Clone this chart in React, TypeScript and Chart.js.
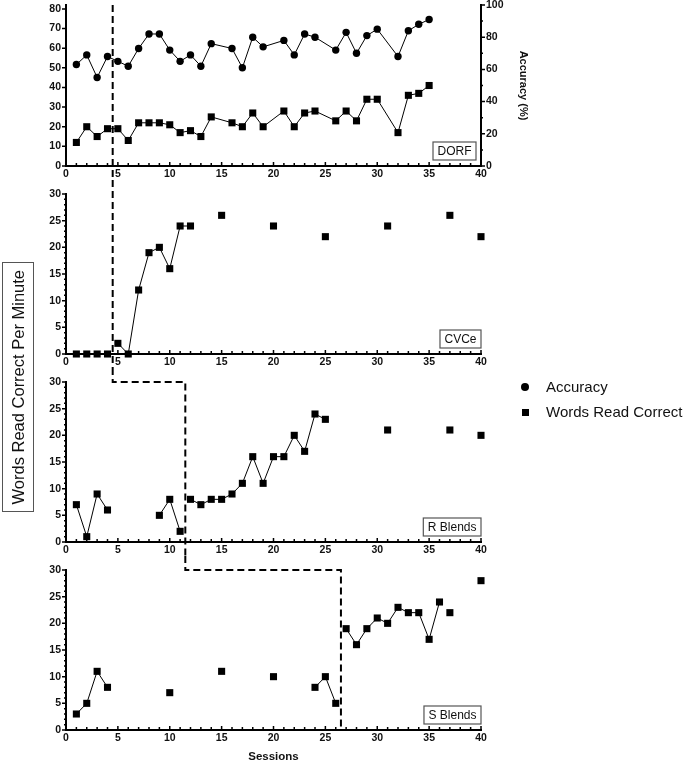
import { useEffect, useRef } from "react";
import { Chart, registerables } from "chart.js";

Chart.register(...registerables);

const FONT = '"Liberation Sans", Arial, Helvetica, sans-serif';
Chart.defaults.font.family = FONT;

// ---- tick labels
const sessionTicks = [0, 5, 10, 15, 20, 25, 30, 35, 40];
const dorfWordTicks = [0, 10, 20, 30, 40, 50, 60, 70, 80];
const accuracyTicks = [0, 20, 40, 60, 80, 100];
const wordTicks = [0, 5, 10, 15, 20, 25, 30];

// ---- DORF panel (words on left axis, accuracy % on right axis)
const dorfSessions = [1, 2, 3, 4, 5, 6, 7, 8, 9, 10, 11, 12, 13, 14, 16, 17, 18, 19, 21, 22, 23, 24, 26, 27, 28, 29, 30, 32, 33, 34, 35];
const dorfWords = [12, 20, 15, 19, 19, 13, 22, 22, 22, 21, 17, 18, 15, 25, 22, 20, 27, 20, 28, 20, 27, 28, 23, 28, 23, 34, 34, 17, 36, 37, 41];
const dorfAccuracy = [63, 69, 55, 68, 65, 62, 73, 82, 82, 72, 65, 69, 62, 76, 73, 61, 80, 74, 78, 69, 82, 80, 72, 83, 70, 81, 85, 68, 84, 88, 91];

// ---- CVCe panel
const cvceBaseSessions = [1, 2, 3, 4];
const cvceBase = [0, 0, 0, 0];
const cvceTreatSessions = [5, 6, 7, 8, 9, 10, 11, 12];
const cvceTreat = [2, 0, 12, 19, 20, 16, 24, 24];
const cvceProbeSessions = [15, 20, 25, 31, 37, 40];
const cvceProbe = [26, 24, 22, 24, 26, 22];

// ---- R Blends panel
const rBaseSessionsA = [1, 2, 3, 4];
const rBaseA = [7, 1, 9, 6];
const rBaseSessionsB = [9, 10, 11];
const rBaseB = [5, 8, 2];
const rTreatSessions = [12, 13, 14, 15, 16, 17, 18, 19, 20, 21, 22, 23, 24, 25];
const rTreat = [8, 7, 8, 8, 9, 11, 16, 11, 16, 16, 20, 17, 24, 23];
const rProbeSessions = [31, 37, 40];
const rProbe = [21, 21, 20];

// ---- S Blends panel
const sBaseSessionsA = [1, 2, 3, 4];
const sBaseA = [3, 5, 11, 8];
const sProbeSessionsA = [10, 15, 20];
const sProbeA = [7, 11, 10];
const sBaseSessionsB = [24, 25, 26];
const sBaseB = [8, 10, 5];
const sTreatSessions = [27, 28, 29, 30, 31, 32, 33, 34, 35, 36];
const sTreat = [19, 16, 19, 21, 20, 23, 22, 22, 17, 24];
const sProbeSessionsB = [37, 40];
const sProbeB = [22, 28];

// phase change lines (between sessions)
const dorfPhase = 4.5;
const rPhase = 11.5;
const sPhase = 26.5;

const series = (sessions: number[], values: number[], line: boolean, style = "rect", axis = "y") => ({
  data: sessions.map((s, i) => ({ x: s, y: values[i] })),
  showLine: line,
  borderColor: "#000",
  borderWidth: 1,
  tension: 0,
  pointStyle: style,
  pointRadius: style === "circle" ? 3.7 : 5,
  pointBackgroundColor: "#000",
  pointBorderColor: "#000",
  pointBorderWidth: 0,
  clip: false as const,
  yAxisID: axis,
});

// ticks, phase lines and the little name box
const panelDecor = {
  id: "panelDecor",
  afterDraw(chart: any, _args: any, o: any) {
    const { ctx, chartArea: a, scales } = chart;
    const xs = scales.x;
    ctx.save();
    ctx.strokeStyle = "#000";
    ctx.lineWidth = 1.5;
    ctx.beginPath();
    for (let v = 0; v <= 40; v++) {
      const px = xs.getPixelForValue(v);
      ctx.moveTo(px, a.bottom);
      ctx.lineTo(px, a.bottom - (v % 5 === 0 ? 4 : 3));
    }
    const ys = scales.y;
    for (let v = 0; v <= ys.max + 0.001; v += o.yMinor) {
      const py = ys.getPixelForValue(v);
      const major = Math.abs(v % o.yMajor) < 0.001;
      ctx.moveTo(a.left, py);
      ctx.lineTo(a.left - (major ? 4 : 2), py);
    }
    if (scales.y1) {
      const y1 = scales.y1;
      for (let v = 0; v <= y1.max; v += 10) {
        const py = y1.getPixelForValue(v);
        ctx.moveTo(a.right, py);
        ctx.lineTo(a.right + (v % 20 === 0 ? 4 : 2), py);
      }
    }
    ctx.stroke();

    // phase change line
    ctx.setLineDash([7, 4]);
    ctx.lineWidth = 2;
    ctx.beginPath();
    const px = xs.getPixelForValue(o.phase);
    const bottom = o.toBottom ? chart.height : a.bottom;
    if (o.prevPhase != null) {
      const pp = xs.getPixelForValue(o.prevPhase);
      ctx.moveTo(pp, 0);
      ctx.lineTo(pp, a.top);
      ctx.lineTo(px, a.top);
      ctx.lineTo(px, bottom);
    } else {
      ctx.moveTo(px, o.fromTop ? 0 : a.top);
      ctx.lineTo(px, bottom);
    }
    ctx.stroke();
    ctx.setLineDash([]);

    // name box
    ctx.font = `12px ${FONT}`;
    const w = ctx.measureText(o.label).width + 9;
    const h = 18;
    const rx = a.right - o.inset;
    const by = a.bottom - 6;
    ctx.fillStyle = "#fff";
    ctx.fillRect(rx - w, by - h, w, h);
    ctx.strokeStyle = "#555";
    ctx.lineWidth = 1.2;
    ctx.strokeRect(rx - w, by - h, w, h);
    ctx.fillStyle = "#111";
    ctx.textAlign = "center";
    ctx.textBaseline = "middle";
    ctx.fillText(o.label, rx - w / 2, by - h / 2 + 0.5);
    ctx.restore();
  },
};

const tickFont = { size: 10.5, weight: "bold" as const, lineHeight: 1 };
const useTicks = (values: number[]) => (s: any) => {
  s.ticks = values.map((value) => ({ value }));
};
const noPad = (size: string, n: number) => (s: any) => {
  s[size] = n;
  s.paddingTop = 0;
  s.paddingBottom = 0;
};

const makeConfig = (p: any) => {
  const scales: any = {
    x: {
      type: "linear",
      min: 0,
      max: 40,
      grid: { display: false, drawTicks: false },
      border: { color: "#000", width: 2 },
      ticks: { padding: 3, color: "#111", font: tickFont },
      afterBuildTicks: useTicks(sessionTicks),
      afterFit: (s: any) => { s.height = p.xHeight; },
      title: {
        display: !!p.sessions,
        text: "Sessions",
        color: "#111",
        padding: 2,
        font: { size: 11.5, weight: "bold" },
      },
    },
    y: {
      type: "linear",
      min: 0,
      max: p.yMax,
      grid: { display: false, drawTicks: false },
      border: { color: "#000", width: 2 },
      ticks: { padding: 5, color: "#111", font: tickFont },
      afterBuildTicks: useTicks(p.yTicks),
      afterFit: noPad("width", 66),
    },
  };
  if (p.rightAxis) {
    scales.y1 = {
      type: "linear",
      position: "right",
      min: 0,
      max: 100,
      grid: { display: false, drawTicks: false },
      border: { color: "#000", width: 2 },
      ticks: { padding: 5, color: "#111", font: tickFont },
      afterBuildTicks: useTicks(accuracyTicks),
      afterFit: noPad("width", 49),
      title: {
        display: true,
        text: "Accuracy (%)",
        color: "#111",
        padding: 0,
        font: { size: 11, weight: "bold" },
      },
    };
  }
  return {
    type: "scatter",
    data: { datasets: p.datasets },
    options: {
      animation: false,
      responsive: false,
      events: [],
      layout: { padding: { top: p.pad, right: p.rightAxis ? 155 : 204, left: 0, bottom: 0 } },
      plugins: {
        legend: { display: false },
        tooltip: { enabled: false },
        panelDecor: p.decor,
      },
      scales,
    },
    plugins: [panelDecor],
  };
};

const panels = [
  {
    top: 0, height: 180, pad: 5, xHeight: 14, yMax: 82, yTicks: dorfWordTicks, rightAxis: true,
    decor: { label: "DORF", inset: 5, phase: dorfPhase, toBottom: true, yMajor: 10, yMinor: 10 },
    datasets: [
      series(dorfSessions, dorfAccuracy, true, "circle", "y1"),
      series(dorfSessions, dorfWords, true),
    ],
  },
  {
    top: 180, height: 188, pad: 14, xHeight: 14, yMax: 30, yTicks: wordTicks,
    decor: { label: "CVCe", inset: 0, phase: dorfPhase, fromTop: true, toBottom: true, yMajor: 5, yMinor: 1 },
    datasets: [
      series(cvceBaseSessions, cvceBase, true),
      series(cvceTreatSessions, cvceTreat, true),
      series(cvceProbeSessions, cvceProbe, false),
    ],
  },
  {
    top: 368, height: 188, pad: 14, xHeight: 14, yMax: 30, yTicks: wordTicks,
    decor: { label: "R Blends", inset: 0, prevPhase: dorfPhase, phase: rPhase, toBottom: true, yMajor: 5, yMinor: 1 },
    datasets: [
      series(rBaseSessionsA, rBaseA, true),
      series(rBaseSessionsB, rBaseB, true),
      series(rTreatSessions, rTreat, true),
      series(rProbeSessions, rProbe, false),
    ],
  },
  {
    top: 556, height: 210, pad: 14, xHeight: 36, yMax: 30, yTicks: wordTicks, sessions: true,
    decor: { label: "S Blends", inset: 0, prevPhase: rPhase, phase: sPhase, yMajor: 5, yMinor: 1 },
    datasets: [
      series(sBaseSessionsA, sBaseA, true),
      series(sProbeSessionsA, sProbeA, false),
      series(sBaseSessionsB, sBaseB, true),
      series(sTreatSessions, sTreat, true),
      series(sProbeSessionsB, sProbeB, false),
    ],
  },
];

const Panel = ({ p }: { p: any }) => {
  const ref = useRef<HTMLCanvasElement>(null);
  useEffect(() => {
    if (!ref.current) return;
    const chart = new Chart(ref.current, makeConfig(p) as any);
    return () => chart.destroy();
  }, [p]);
  return (
    <div style={{ position: "absolute", left: 0, top: p.top, width: 685, height: p.height }}>
      <canvas ref={ref} width={685} height={p.height} />
    </div>
  );
};

export default function App() {
  return (
    <div style={{ position: "absolute", left: 0, top: 0, width: 685, height: 766, background: "#fff", fontFamily: FONT, color: "#111" }}>
      {panels.map((p, i) => <Panel key={i} p={p} />)}
      <div
        style={{
          position: "absolute", left: 2, top: 262, width: 32, height: 250, boxSizing: "border-box",
          border: "1px solid #555", display: "flex", alignItems: "center", justifyContent: "center",
        }}
      >
        <span style={{ writingMode: "vertical-rl", transform: "rotate(180deg)", fontSize: 16.5, whiteSpace: "nowrap" }}>
          Words Read Correct Per Minute
        </span>
      </div>
      <div style={{ position: "absolute", left: 521, top: 377, fontSize: 15, lineHeight: "20px" }}>
        <div style={{ display: "flex", alignItems: "center", height: 20 }}>
          <span style={{ display: "inline-block", width: 8, height: 8, borderRadius: "50%", background: "#000", marginRight: 17 }} />
          Accuracy
        </div>
        <div style={{ display: "flex", alignItems: "center", height: 20, marginTop: 5, whiteSpace: "nowrap" }}>
          <span style={{ display: "inline-block", width: 7, height: 7, background: "#000", marginLeft: 0.5, marginRight: 17.5 }} />
          Words Read Correct
        </div>
      </div>
    </div>
  );
}
